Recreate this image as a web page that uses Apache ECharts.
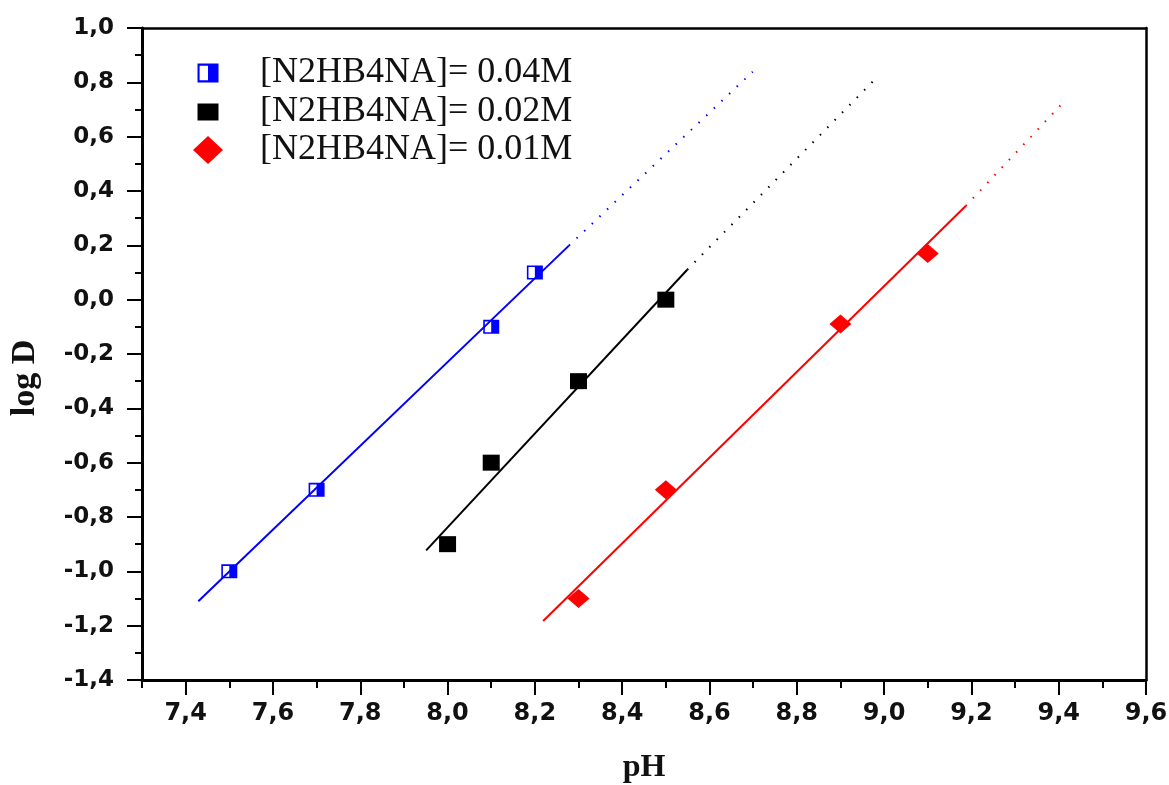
<!DOCTYPE html>
<html>
<head>
<meta charset="utf-8">
<title>log D - pH</title>
<script src="https://cdn.jsdelivr.net/npm/echarts@6/dist/echarts.min.js"></script>
<style>
html,body{margin:0;padding:0;background:#fff;}
#logDChart{width:1169px;height:785px;}
</style>
</head>
<body>
<div id="logDChart"></div>
<script>
// 数据
var names = ['[N2HB4NA]= 0.04M', '[N2HB4NA]= 0.02M', '[N2HB4NA]= 0.01M'];
var pts04 = [[7.5, -1.0], [7.7, -0.7], [8.1, -0.1], [8.2, 0.1]];
var pts02 = [[8.0, -0.9], [8.1, -0.6], [8.3, -0.3], [8.5, 0.0]];
var pts01 = [[8.3, -1.1], [8.5, -0.7], [8.9, -0.09], [9.1, 0.17]];
// 拟合直线 (实线段 + 外推虚线段)
var fit04Solid = [[7.429, -1.11], [8.278, 0.199]];
var fit04Dot = [[8.278, 0.199], [8.699, 0.839]];
var fit02Solid = [[7.951, -0.923], [8.549, 0.11]];
var fit02Dot = [[8.549, 0.11], [8.986, 0.822]];
var fit01Solid = [[8.219, -1.183], [9.187, 0.345]];
var fit01Dot = [[9.187, 0.345], [9.417, 0.737]];
// 刻度
var xMajorTicks = [7.4, 7.6, 7.8, 8.0, 8.2, 8.4, 8.6, 8.8, 9.0, 9.2, 9.4, 9.6];
var xMinorTicks = [7.3, 7.5, 7.7, 7.9, 8.1, 8.3, 8.5, 8.7, 8.9, 9.1, 9.3, 9.5];

var halfSquare = 'path://M0 0H20V18H0Z M2 2V16H10V2Z';
var charts;
var option;

function commaNum(v){
	return v.toFixed(1).replace('.', ',');
}

function fitLine(name, data, color, dotted){
	return {
		name: name,
		type: 'line',
		data: data,
		showSymbol: false,
		silent: true,
		z: 1,
		lineStyle: {
			color: color,
			width: 2,
			type: dotted ? [1.5, 9] : 'solid'
		}
	};
}

function legendItem(name, icon, w, h, left, top, pad){
	return {
		data: [{name: name, icon: icon}],
		left: left,
		top: top,
		itemWidth: w,
		itemHeight: h,
		selectedMode: false,
		textStyle: {
			fontFamily: 'Liberation Serif',
			fontSize: 36,
			lineHeight: 38,
			color: '#111',
			padding: [0, 0, 0, pad]
		}
	};
}

function showLogDChart(){
	charts = echarts.init(document.getElementById('logDChart'));
	option = {
		animation: false,
		backgroundColor: '#fff',
		grid: {
			left: 142,
			right: 23,
			top: 28,
			bottom: 105,
			outerBoundsMode: 'none'
		},
		legend: [
			legendItem(names[0], halfSquare, 21, 19, 192.5, 49, 36.5),
			legendItem(names[1], 'rect', 21, 17, 192.5, 88, 36.5),
			legendItem(names[2], 'diamond', 30, 28, 188, 126, 32)
		],
		xAxis: [{
			type: 'value',
			min: 7.3,
			max: 9.6,
			name: 'pH',
			nameLocation: 'middle',
			nameGap: 72,
			nameTextStyle: {
				fontFamily: 'Liberation Serif',
				fontWeight: 'bold',
				fontSize: 32,
				color: '#111'
			},
			splitLine: {show: false},
			axisLine: {onZero: false, lineStyle: {color: '#000', width: 3}},
			axisTick: {
				customValues: xMajorTicks,
				length: 15,
				lineStyle: {color: '#000', width: 2}
			},
			axisLabel: {
				customValues: xMajorTicks,
				margin: 22,
				fontFamily: 'DejaVu Sans',
				fontWeight: 'bold',
				fontSize: 24,
				color: '#111',
				formatter: commaNum
			}
		}, {
			type: 'value',
			min: 7.3,
			max: 9.6,
			position: 'bottom',
			splitLine: {show: false},
			axisLine: {show: false, onZero: false},
			axisTick: {
				customValues: xMinorTicks,
				length: 8,
				lineStyle: {color: '#000', width: 2}
			},
			axisLabel: {show: false}
		}, {
			type: 'value',
			min: 7.3,
			max: 9.6,
			position: 'top',
			splitLine: {show: false},
			axisLine: {onZero: false, lineStyle: {color: '#000', width: 2.5}},
			axisTick: {show: false},
			axisLabel: {show: false}
		}],
		yAxis: [{
			type: 'value',
			min: -1.4,
			max: 1.0,
			interval: 0.2,
			name: 'log D',
			nameLocation: 'middle',
			nameGap: 100,
			nameTextStyle: {
				fontFamily: 'Liberation Serif',
				fontWeight: 'bold',
				fontSize: 34,
				color: '#111',
				padding: [0, 48, 0, 0]
			},
			splitLine: {show: false},
			axisLine: {onZero: false, lineStyle: {color: '#000', width: 3}},
			axisTick: {length: 15, lineStyle: {color: '#000', width: 2}},
			minorTick: {show: true, splitNumber: 2, length: 7, lineStyle: {color: '#000', width: 2}},
			axisLabel: {
				margin: 28,
				fontFamily: 'DejaVu Sans',
				fontWeight: 'bold',
				fontSize: 23,
				color: '#111',
				formatter: commaNum
			}
		}, {
			type: 'value',
			min: -1.4,
			max: 1.0,
			position: 'right',
			splitLine: {show: false},
			axisLine: {onZero: false, lineStyle: {color: '#000', width: 2.5}},
			axisTick: {show: false},
			axisLabel: {show: false}
		}],
		series: [
			fitLine('fit04', fit04Solid, '#0000ff', false),
			fitLine('fit04d', fit04Dot, '#0000ff', true),
			fitLine('fit02', fit02Solid, '#000000', false),
			fitLine('fit02d', fit02Dot, '#000000', true),
			fitLine('fit01', fit01Solid, '#ff0000', false),
			fitLine('fit01d', fit01Dot, '#ff0000', true),
			{
				name: names[0],
				type: 'scatter',
				data: pts04,
				symbol: halfSquare,
				symbolSize: [16, 14],
				z: 3,
				itemStyle: {color: '#0000ff', opacity: 1}
			},
			{
				name: names[1],
				type: 'scatter',
				data: pts02,
				symbol: 'rect',
				symbolSize: [17, 16],
				z: 3,
				itemStyle: {color: '#000000', opacity: 1}
			},
			{
				name: names[2],
				type: 'scatter',
				data: pts01,
				symbol: 'diamond',
				symbolSize: [22, 19],
				z: 3,
				itemStyle: {color: '#ff0000', opacity: 1}
			}
		]
	};
	charts.setOption(option);
}

window.onload = function(){
	showLogDChart();
};
</script>
</body>
</html>
